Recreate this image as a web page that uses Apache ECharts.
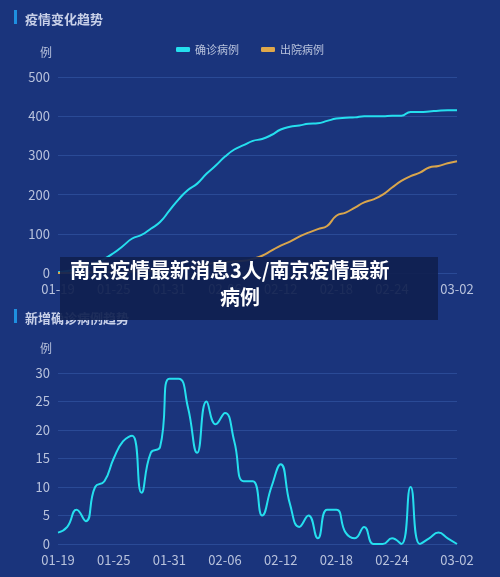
<!DOCTYPE html>
<html><head><meta charset="utf-8">
<script src="https://cdn.jsdelivr.net/npm/echarts@6/dist/echarts.min.js"></script>
<style>html,body{margin:0;padding:0;background:#1a347c}#c{width:500px;height:577px}</style>
</head><body><div id="c"></div>
<script>
const dates = (function(){const a=[];for(let d=19;d<=31;d++)a.push('01-'+d);for(let d=1;d<=29;d++)a.push('02-'+String(d).padStart(2,'0'));a.push('03-01','03-02');return a;})();
const confirmed = [2,5,11,15,25,36,51,69,88,97,113,130,159,188,212,228,253,274,297,315,326,337,342,352,366,373,376,381,382,388,394,396,397,400,400,400,401,401,411,411,412,414,415,415];
const discharged = [0,0,1,1,2,2,3,3,4,5,6,7,9,11,14,18,22,26,27,30,31,36,44,57,70,80,93,103,112,120,146,154,167,180,188,200,218,235,247,256,269,273,280,285];
const newCases = [2,3,6,4,10,11,15,18,19,9,16,17,29,29,24,16,25,21,23,18,11,11,5,10,14,7,3,5,1,6,6,2,1,3,0,0,1,0,10,0,1,2,1,0];
const labCol='#b8c2dc', font='"Noto Sans CJK SC", sans-serif';
const showLab=(i)=> (i%6===0 && i!==42) || i===43;
function xAx(g){return {type:'category',gridIndex:g,data:dates,boundaryGap:false,
  axisLine:{show:false},axisTick:{show:false},
  axisLabel:{interval:showLab,color:labCol,fontSize:13,fontFamily:font,margin:10}};}
function yAx(g,max,interval){return {type:'value',gridIndex:g,min:0,max:max,interval:interval,name:'例',
  nameTextStyle:{color:labCol,fontSize:12,fontFamily:font,align:'right',padding:[0,6,4,0]},
  axisLabel:{color:labCol,fontSize:13,fontFamily:font},
  splitLine:{lineStyle:{color:'#2a4a96',width:1}}};}
const chart=echarts.init(document.getElementById('c'));
chart.setOption({
  backgroundColor:'#1a347c',
  textStyle:{fontFamily:font},
  title:[
    {text:'疫情变化趋势',left:20,top:8,textStyle:{color:'#c8d0e8',fontSize:13,fontWeight:'bold'}},
    {text:'新增确诊病例趋势',left:20,top:307,textStyle:{color:'#c8d0e8',fontSize:13,fontWeight:'bold'}}
  ],
  legend:{top:39,left:'center',itemWidth:14,itemHeight:5,itemGap:22,
    textStyle:{color:labCol,fontSize:11},data:['确诊病例','出院病例'],icon:'roundRect'},
  grid:[{left:58,right:43,top:77,height:196},{left:58,right:43,top:373,height:171}],
  xAxis:[xAx(0),xAx(1)],
  yAxis:[yAx(0,500,100),yAx(1,30,5)],
  series:[
    {name:'确诊病例',type:'line',xAxisIndex:0,yAxisIndex:0,data:confirmed,smooth:true,showSymbol:false,lineStyle:{color:'#25dfee',width:2},itemStyle:{color:'#25dfee'}},
    {name:'出院病例',type:'line',xAxisIndex:0,yAxisIndex:0,data:discharged,smooth:true,showSymbol:false,lineStyle:{color:'#d9a54c',width:2},itemStyle:{color:'#e0a84a'}},
    {name:'新增',type:'line',xAxisIndex:1,yAxisIndex:1,data:newCases,smooth:true,showSymbol:false,lineStyle:{color:'#25dfee',width:2}}
  ],
  graphic:[
    {type:'rect',left:14,top:10,shape:{width:3,height:14},style:{fill:'#1e8fe0'}},
    {type:'rect',left:14,top:309,shape:{width:3,height:14},style:{fill:'#1e8fe0'}},
    {type:'rect',left:60,top:257,z:100,shape:{width:378,height:63},style:{fill:'rgba(16,32,80,0.93)'}},
    {type:'text',left:70,top:260,z:101,style:{text:'南京疫情最新消息3人/南京疫情最新',fill:'#fff',font:'bold 20px "Noto Sans CJK SC"'}},
    {type:'text',left:220,top:287,z:101,style:{text:'病例',fill:'#fff',font:'bold 20px "Noto Sans CJK SC"'}}
  ]
});
</script></body></html>
